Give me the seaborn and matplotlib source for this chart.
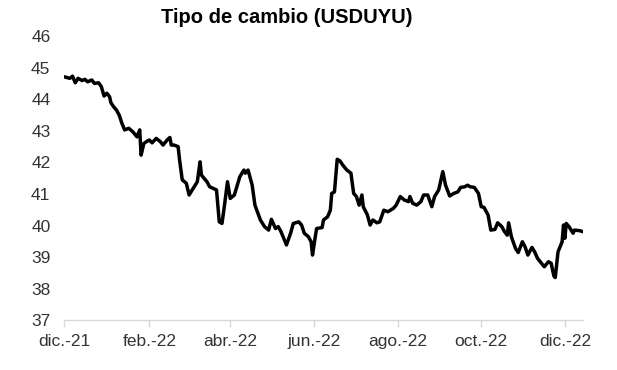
import matplotlib
matplotlib.use("Agg")
import matplotlib.pyplot as plt
import seaborn as sns
import pandas as pd

dates = [
    "2021-12-01", "2021-12-05", "2021-12-07", "2021-12-09", "2021-12-11", "2021-12-14",
    "2021-12-16", "2021-12-18", "2021-12-21", "2021-12-23", "2021-12-26", "2021-12-28",
    "2021-12-30", "2022-01-01", "2022-01-03", "2022-01-04", "2022-01-06", "2022-01-08",
    "2022-01-10", "2022-01-12", "2022-01-14", "2022-01-17", "2022-01-20", "2022-01-23",
    "2022-01-25", "2022-01-26", "2022-01-28", "2022-01-30", "2022-02-01", "2022-02-03",
    "2022-02-06", "2022-02-09", "2022-02-11", "2022-02-14", "2022-02-16", "2022-02-17",
    "2022-02-19", "2022-02-22", "2022-02-23", "2022-02-25", "2022-02-28", "2022-03-02",
    "2022-03-05", "2022-03-08", "2022-03-10", "2022-03-11", "2022-03-15", "2022-03-17",
    "2022-03-22", "2022-03-24", "2022-03-26", "2022-03-28", "2022-03-30", "2022-04-01",
    "2022-04-04", "2022-04-08", "2022-04-11", "2022-04-12", "2022-04-14", "2022-04-17",
    "2022-04-19", "2022-04-23", "2022-04-26", "2022-04-29", "2022-05-01", "2022-05-04",
    "2022-05-06", "2022-05-08", "2022-05-12", "2022-05-15", "2022-05-17", "2022-05-21",
    "2022-05-23", "2022-05-25", "2022-05-28", "2022-05-30", "2022-05-31", "2022-06-02",
    "2022-06-03", "2022-06-07", "2022-06-08", "2022-06-11", "2022-06-13", "2022-06-14",
    "2022-06-16", "2022-06-18", "2022-06-20", "2022-06-22", "2022-06-25", "2022-06-28",
    "2022-06-30", "2022-07-02", "2022-07-04", "2022-07-06", "2022-07-07", "2022-07-10",
    "2022-07-12", "2022-07-14", "2022-07-17", "2022-07-19", "2022-07-22", "2022-07-25",
    "2022-07-29", "2022-07-31", "2022-08-03", "2022-08-06", "2022-08-09", "2022-08-10",
    "2022-08-12", "2022-08-15", "2022-08-18", "2022-08-20", "2022-08-23", "2022-08-26",
    "2022-08-28", "2022-08-31", "2022-09-03", "2022-09-05", "2022-09-08", "2022-09-11",
    "2022-09-14", "2022-09-16", "2022-09-19", "2022-09-21", "2022-09-23", "2022-09-26",
    "2022-09-29", "2022-10-01", "2022-10-03", "2022-10-06", "2022-10-08", "2022-10-11",
    "2022-10-13", "2022-10-16", "2022-10-18", "2022-10-20", "2022-10-21", "2022-10-23",
    "2022-10-26", "2022-10-28", "2022-10-31", "2022-11-02", "2022-11-04", "2022-11-07",
    "2022-11-09", "2022-11-11", "2022-11-13", "2022-11-16", "2022-11-18", "2022-11-19",
    "2022-11-21", "2022-11-23", "2022-11-24", "2022-11-26", "2022-11-29", "2022-11-30",
    "2022-12-01", "2022-12-02", "2022-12-04", "2022-12-07", "2022-12-08", "2022-12-12",
    "2022-12-14",
]

usduyu = [
    44.71, 44.66, 44.73, 44.52, 44.66, 44.59,
    44.63, 44.55, 44.61, 44.50, 44.52, 44.40,
    44.10, 44.19, 44.08, 43.89, 43.76, 43.66,
    43.50, 43.24, 43.03, 43.08, 42.97, 42.81,
    43.03, 42.23, 42.60, 42.66, 42.71, 42.62,
    42.76, 42.66, 42.55, 42.71, 42.79, 42.55,
    42.55, 42.50, 42.10, 41.45, 41.34, 40.97,
    41.18, 41.39, 42.02, 41.60, 41.39, 41.23,
    41.13, 40.12, 40.07, 40.71, 41.39, 40.86,
    40.97, 41.55, 41.76, 41.66, 41.76, 41.28,
    40.65, 40.18, 39.97, 39.86, 40.20, 39.91,
    39.97, 39.81, 39.39, 39.76, 40.07, 40.12,
    40.02, 39.76, 39.65, 39.49, 39.07, 39.65,
    39.91, 39.94, 40.18, 40.28, 40.49, 41.02,
    41.07, 42.10, 42.05, 41.92, 41.76, 41.66,
    41.02, 40.92, 40.65, 40.97, 40.60, 40.34,
    40.02, 40.18, 40.09, 40.12, 40.49, 40.44,
    40.55, 40.65, 40.92, 40.81, 40.76, 40.92,
    40.71, 40.65, 40.76, 40.97, 40.97, 40.60,
    40.92, 41.13, 41.71, 41.28, 40.94, 41.02,
    41.07, 41.21, 41.23, 41.28, 41.23, 41.21,
    41.02, 40.60, 40.58, 40.34, 39.86, 39.88,
    40.09, 39.97, 39.81, 39.70, 40.09, 39.65,
    39.28, 39.15, 39.49, 39.33, 39.07, 39.31,
    39.17, 38.97, 38.86, 38.70, 38.81, 38.86,
    38.81, 38.41, 38.36, 39.17, 39.49, 40.02,
    39.60, 40.07, 39.97, 39.76, 39.86, 39.84,
    39.81,
]

tick_dates = ["2021-12-01", "2022-02-01", "2022-04-01", "2022-06-01",
              "2022-08-01", "2022-10-01", "2022-12-01"]
tick_labels = ["dic.-21", "feb.-22", "abr.-22", "jun.-22", "ago.-22", "oct.-22", "dic.-22"]
y_ticks = [37, 38, 39, 40, 41, 42, 43, 44, 45, 46]
title = "Tipo de cambio (USDUYU)"

df = pd.DataFrame({"fecha": pd.to_datetime(dates), "valor": usduyu})

sns.set_style("white")
plt.rcParams["font.family"] = ["Liberation Sans", "DejaVu Sans"]

fig = plt.figure(figsize=(6.17, 3.70), dpi=100)
ax = fig.add_axes([0.1042, 0.1338, 0.8402, 0.7689])

sns.lineplot(data=df, x="fecha", y="valor", ax=ax, color="black", linewidth=2.5)

ax.set_xlim(df["fecha"].iloc[0], df["fecha"].iloc[-1])
ax.set_ylim(37, 46)
ax.set_yticks(y_ticks)
ax.set_yticklabels([str(v) for v in y_ticks])
ax.set_xticks(pd.to_datetime(tick_dates))
ax.set_xticklabels(tick_labels)
ax.set_xlabel("")
ax.set_ylabel("")

for s in ["top", "right", "left"]:
    ax.spines[s].set_visible(False)
ax.spines["bottom"].set_color("#d9d9d9")
ax.spines["bottom"].set_linewidth(1.0)
ax.tick_params(axis="x", which="major", bottom=True, length=5, width=1.0,
               color="#d9d9d9", labelsize=12.5, labelcolor="#333333", pad=5)
ax.tick_params(axis="y", left=False, length=0, labelsize=12.5, labelcolor="#333333", pad=10)
ax.grid(False)

fig.text(0.4647, 0.953, title, ha="center", va="center", fontsize=14.5,
         fontweight="bold", color="black")

fig.savefig("out.png", dpi=100)
